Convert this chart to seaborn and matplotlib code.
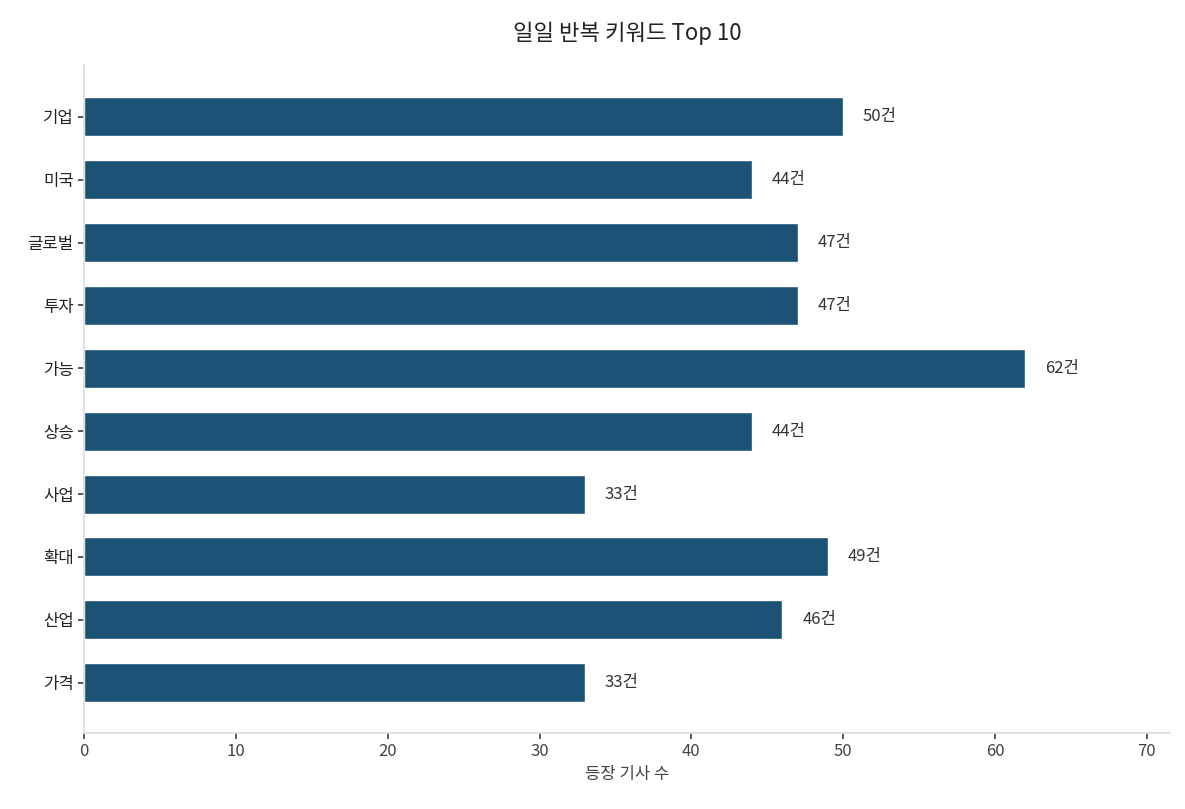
import matplotlib
matplotlib.use("Agg")
import matplotlib.pyplot as plt
import seaborn as sns
import pandas as pd

keywords = ["기업", "미국", "글로벌", "투자", "가능", "상승", "사업", "확대", "산업", "가격"]
counts = [50, 44, 47, 47, 62, 44, 33, 49, 46, 33]

sns.set_theme(style="white")
plt.rcParams['font.family'] = ['Noto Sans CJK KR', 'DejaVu Sans']

df = pd.DataFrame({"keyword": keywords, "count": counts})

fig, ax = plt.subplots(figsize=(11.85, 8.09), dpi=100)
fig.subplots_adjust(left=0.071, right=0.987, top=0.92, bottom=0.094)

sns.barplot(data=df, x="count", y="keyword", color="#1b5276", width=0.62,
            saturation=1, ax=ax)

for i, v in enumerate(counts):
    ax.text(v + 1.3, i, f"{v}건", va="center", ha="left", fontsize=12, color="#333333")

ax.set_xlim(0, 71.5)
ax.set_ylim(9.8, -0.83)
ax.set_xlabel("등장 기사 수", fontsize=12, color="#444444")
ax.set_ylabel("")
ax.set_title("일일 반복 키워드 Top 10", fontsize=16, color="#222222", pad=18)
ax.tick_params(axis="both", labelsize=12, colors="#444444", length=4, color="#444444", left=True, bottom=True)
ax.tick_params(axis="y", labelcolor="#222222")

sns.despine(ax=ax)
for s in ["left", "bottom"]:
    ax.spines[s].set_color("#dddddd")

fig.savefig("out.png", dpi=100)
